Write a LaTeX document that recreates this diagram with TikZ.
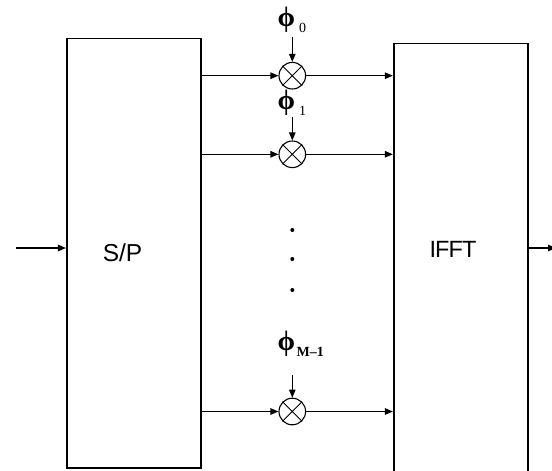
\documentclass[tikz,border=0pt]{standalone}
\usepackage{fontspec}
\setmainfont{Liberation Serif}
\newfontfamily\blockfont{Liberation Sans}
\usepackage{tikz}
\usetikzlibrary{arrows.meta}
\newcommand{\phasesym}[2]{\fontsize{28}{28}\selectfont\textbf{ϕ}\kern#1\raisebox{-6pt}{\fontsize{14}{14}\selectfont#2}}

\begin{document}
\begin{tikzpicture}[x=1pt,y=-1pt,
  block/.style={draw,line width=1.6pt,rectangle,inner sep=0pt},
  mixer/.style={draw,line width=1.1pt,circle,minimum size=26.6pt,inner sep=0pt},
  sig/.style={line width=1.1pt,-{Triangle[length=8pt,width=6.5pt]}},
  phase/.style={anchor=base west,inner sep=0pt}]
  \useasboundingbox (0,0) rectangle (552,471);
  \node[block,minimum width=134.3pt,minimum height=429.7pt,
    label={[xshift=-11.3pt,font=\blockfont\fontsize{24.5}{24}\selectfont]center:S/P}] (sp) at (133.85,253.15) {};
  \node[block,minimum width=134pt,minimum height=432pt,
    label={[xshift=-7.7pt,yshift=10pt,font=\blockfont\fontsize{23.5}{24}\selectfont\addfontfeature{LetterSpace=-4}]center:IFFT}] (ifft) at (460.7,259.3) {};
  \node[mixer] (mix0) at (292.3,75.7) {};
  \node[mixer] (mix1) at (292.3,154.3) {};
  \node[mixer] (mix2) at (292.3,411.5) {};
  \foreach \m in {mix0,mix1,mix2}{
    \draw[line width=0.9pt] (\m.45) -- (\m.225) (\m.135) -- (\m.315);
    \draw[sig] (sp.east |- \m) -- (\m.west);
    \draw[sig] (\m.east) -- (ifft.west |- \m);
  }
  \node[phase] (ph0) at (277.5,26.5) {\phasesym{4pt}{0}};
  \node[phase] (ph1) at (277.5,109.7) {\phasesym{4pt}{1}};
  \node[phase] (ph2) at (277.5,350) {\phasesym{1.5pt}{\textbf{M–1}}};
  \coordinate (ph0in) at (292.3,36.7);
  \coordinate (ph1in) at (292.3,117);
  \coordinate (ph2in) at (292.3,375);
  \draw[sig] (ph0in) -- (mix0.north);
  \draw[sig] (ph1in) -- (mix1.north);
  \draw[sig] (ph2in) -- (mix2.north);
  \foreach \y in {230,259,290}
    \fill (292.3,\y) circle (2pt);
  \coordinate (in) at (15.8,248);
  \coordinate (out) at (556,248);
  \draw[sig] (in) -- (in -| sp.west);
  \draw[sig] (ifft.east |- out) -- (out);
\end{tikzpicture}
\end{document}
